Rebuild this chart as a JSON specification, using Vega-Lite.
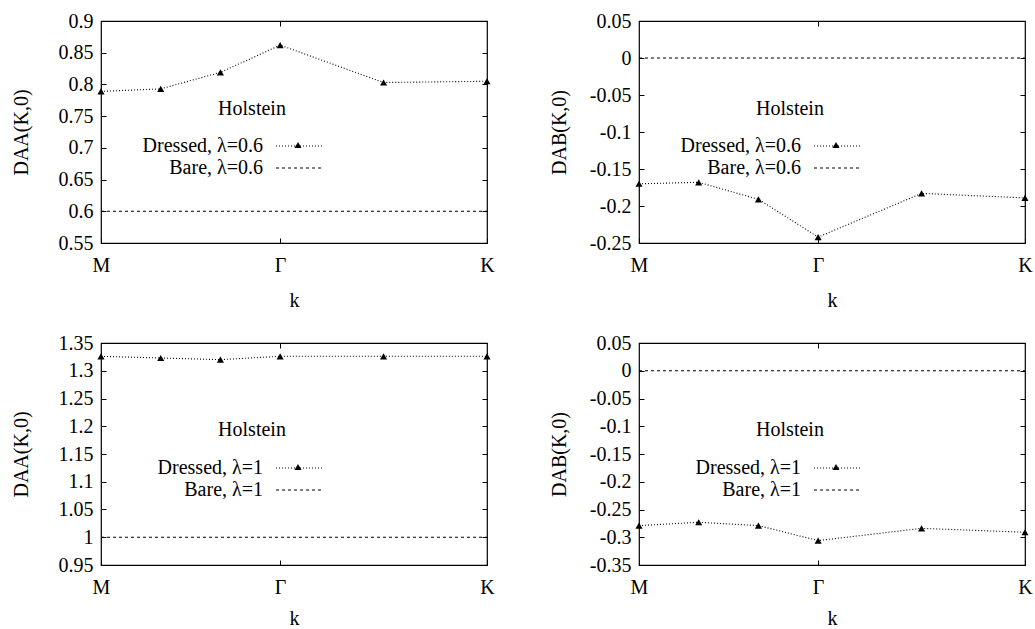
{
  "$schema": "https://vega.github.io/schema/vega-lite/v6.json",
  "background": "white",
  "padding": {"left": 10, "top": 10, "right": 5, "bottom": 0},
  "datasets": {
    "tl": [
      {"series": "Dressed, λ=0.6", "k": 0, "D": 0.789},
      {"series": "Dressed, λ=0.6", "k": 0.2887, "D": 0.793},
      {"series": "Dressed, λ=0.6", "k": 0.5774, "D": 0.819},
      {"series": "Dressed, λ=0.6", "k": 0.866, "D": 0.862},
      {"series": "Dressed, λ=0.6", "k": 1.366, "D": 0.803},
      {"series": "Dressed, λ=0.6", "k": 1.866, "D": 0.805},
      {"series": "Bare, λ=0.6", "k": 0, "D": 0.6},
      {"series": "Bare, λ=0.6", "k": 1.866, "D": 0.6}
    ],
    "tr": [
      {"series": "Dressed, λ=0.6", "k": 0, "D": -0.170},
      {"series": "Dressed, λ=0.6", "k": 0.2887, "D": -0.168},
      {"series": "Dressed, λ=0.6", "k": 0.5774, "D": -0.191},
      {"series": "Dressed, λ=0.6", "k": 0.866, "D": -0.242},
      {"series": "Dressed, λ=0.6", "k": 1.366, "D": -0.183},
      {"series": "Dressed, λ=0.6", "k": 1.866, "D": -0.189},
      {"series": "Bare, λ=0.6", "k": 0, "D": 0},
      {"series": "Bare, λ=0.6", "k": 1.866, "D": 0}
    ],
    "bl": [
      {"series": "Dressed, λ=1", "k": 0, "D": 1.326},
      {"series": "Dressed, λ=1", "k": 0.2887, "D": 1.323},
      {"series": "Dressed, λ=1", "k": 0.5774, "D": 1.320},
      {"series": "Dressed, λ=1", "k": 0.866, "D": 1.326},
      {"series": "Dressed, λ=1", "k": 1.366, "D": 1.326},
      {"series": "Dressed, λ=1", "k": 1.866, "D": 1.326},
      {"series": "Bare, λ=1", "k": 0, "D": 1},
      {"series": "Bare, λ=1", "k": 1.866, "D": 1}
    ],
    "br": [
      {"series": "Dressed, λ=1", "k": 0, "D": -0.279},
      {"series": "Dressed, λ=1", "k": 0.2887, "D": -0.273},
      {"series": "Dressed, λ=1", "k": 0.5774, "D": -0.279},
      {"series": "Dressed, λ=1", "k": 0.866, "D": -0.306},
      {"series": "Dressed, λ=1", "k": 1.366, "D": -0.284},
      {"series": "Dressed, λ=1", "k": 1.866, "D": -0.291},
      {"series": "Bare, λ=1", "k": 0, "D": 0},
      {"series": "Bare, λ=1", "k": 1.866, "D": 0}
    ],
    "label": [{"text": "Holstein"}]
  },
  "columns": 2,
  "spacing": {"row": 100, "column": 152},
  "bounds": "flush",
  "resolve": {"scale": {"strokeDash": "independent", "shape": "independent"}, "legend": {"strokeDash": "independent", "shape": "independent"}},
  "concat": [
    {
      "width": 386, "height": 222,
      "data": {"name": "tl"},
      "layer": [
        {
          "mark": {"type": "line", "strokeWidth": 1.1, "color": "black"},
          "encoding": {
            "x": {"field": "k", "type": "quantitative", "scale": {"domain": [0, 1.866], "nice": false, "zero": false},
              "axis": {"values": [0, 0.866, 1.866], "labelExpr": "datum.value < 0.1 ? 'M' : (datum.value < 1 ? 'Γ' : 'K')", "title": "k", "tickSize": -5, "labelPadding": 17, "labelFlush": false, "titleY": 57, "titleBaseline": "middle"}},
            "y": {"field": "D", "type": "quantitative", "scale": {"domain": [0.55, 0.9], "nice": false, "zero": false},
              "axis": {"values": [0.55, 0.6, 0.65, 0.7, 0.75, 0.8, 0.85, 0.9], "labelExpr": "replace(format(datum.value, '.2~f'), '−', '-')", "title": "DAA(K,0)", "tickSize": -5, "labelPadding": 13, "titleX": -80, "titleY": 111, "titleBaseline": "middle"}},
            "strokeDash": {"field": "series", "type": "nominal",
              "scale": {"domain": ["Dressed, λ=0.6", "Bare, λ=0.6"], "range": [[1, 2], [3, 3]]},
              "legend": {"title": null, "orient": "none", "legendX": 189, "legendY": 115, "rowPadding": 2,
                "labelAlign": "right", "labelOffset": -47,
                "symbolType": "M-4.8,0H4.8", "symbolSize": 100, "symbolStrokeWidth": 1.1}}
          }
        },
        {
          "transform": [{"filter": "indexof(datum.series, 'Dressed') == 0"}],
          "mark": {"type": "point", "filled": true, "color": "black", "size": 50, "opacity": 1},
          "encoding": {
            "x": {"field": "k", "type": "quantitative", "axis": null},
            "y": {"field": "D", "type": "quantitative", "axis": null},
            "shape": {"field": "series", "type": "nominal", "scale": {"domain": ["Dressed, λ=0.6"], "range": ["triangle-up"]},
              "legend": {"title": null, "orient": "none", "legendX": 187, "legendY": 114, "labelExpr": "''", "symbolSize": 50, "symbolFillColor": "black", "symbolStrokeColor": "black"}}
          }
        },
        {
          "data": {"name": "label"},
          "mark": {"type": "text", "font": "Liberation Serif", "fontSize": 20, "color": "black", "align": "center", "baseline": "middle"},
          "encoding": {
            "x": {"datum": 0.73, "type": "quantitative", "axis": null},
            "y": {"datum": 0.761, "type": "quantitative", "axis": null},
            "text": {"field": "text", "type": "nominal"}
          }
        },
        {
          "mark": {"type": "point", "opacity": 0},
          "encoding": {
            "x": {"field": "k", "type": "quantitative", "axis": {"orient": "top", "values": [0.866], "labels": false, "title": null, "tickSize": -5}},
            "y": {"field": "D", "type": "quantitative", "axis": {"orient": "right", "values": [0.55, 0.6, 0.65, 0.7, 0.75, 0.8, 0.85, 0.9], "labels": false, "title": null, "tickSize": -5}}
          }
        }
      ],
      "resolve": {"axis": {"x": "independent", "y": "independent"}}
    },
    {
      "width": 386, "height": 222,
      "data": {"name": "tr"},
      "layer": [
        {
          "mark": {"type": "line", "strokeWidth": 1.1, "color": "black"},
          "encoding": {
            "x": {"field": "k", "type": "quantitative", "scale": {"domain": [0, 1.866], "nice": false, "zero": false},
              "axis": {"values": [0, 0.866, 1.866], "labelExpr": "datum.value < 0.1 ? 'M' : (datum.value < 1 ? 'Γ' : 'K')", "title": "k", "tickSize": -5, "labelPadding": 17, "labelFlush": false, "titleY": 57, "titleBaseline": "middle"}},
            "y": {"field": "D", "type": "quantitative", "scale": {"domain": [-0.25, 0.05], "nice": false, "zero": false},
              "axis": {"values": [-0.25, -0.2, -0.15, -0.1, -0.05, 0, 0.05], "labelExpr": "replace(format(datum.value, '.2~f'), '−', '-')", "title": "DAB(K,0)", "tickSize": -5, "labelPadding": 13, "titleX": -80, "titleY": 111, "titleBaseline": "middle"}},
            "strokeDash": {"field": "series", "type": "nominal",
              "scale": {"domain": ["Dressed, λ=0.6", "Bare, λ=0.6"], "range": [[1, 2], [3, 3]]},
              "legend": {"title": null, "orient": "none", "legendX": 189, "legendY": 115, "rowPadding": 2,
                "labelAlign": "right", "labelOffset": -47,
                "symbolType": "M-4.8,0H4.8", "symbolSize": 100, "symbolStrokeWidth": 1.1}}
          }
        },
        {
          "transform": [{"filter": "indexof(datum.series, 'Dressed') == 0"}],
          "mark": {"type": "point", "filled": true, "color": "black", "size": 50, "opacity": 1},
          "encoding": {
            "x": {"field": "k", "type": "quantitative", "axis": null},
            "y": {"field": "D", "type": "quantitative", "axis": null},
            "shape": {"field": "series", "type": "nominal", "scale": {"domain": ["Dressed, λ=0.6"], "range": ["triangle-up"]},
              "legend": {"title": null, "orient": "none", "legendX": 187, "legendY": 114, "labelExpr": "''", "symbolSize": 50, "symbolFillColor": "black", "symbolStrokeColor": "black"}}
          }
        },
        {
          "data": {"name": "label"},
          "mark": {"type": "text", "font": "Liberation Serif", "fontSize": 20, "color": "black", "align": "center", "baseline": "middle"},
          "encoding": {
            "x": {"datum": 0.73, "type": "quantitative", "axis": null},
            "y": {"datum": -0.069, "type": "quantitative", "axis": null},
            "text": {"field": "text", "type": "nominal"}
          }
        },
        {
          "mark": {"type": "point", "opacity": 0},
          "encoding": {
            "x": {"field": "k", "type": "quantitative", "axis": {"orient": "top", "values": [0.866], "labels": false, "title": null, "tickSize": -5}},
            "y": {"field": "D", "type": "quantitative", "axis": {"orient": "right", "values": [-0.25, -0.2, -0.15, -0.1, -0.05, 0, 0.05], "labels": false, "title": null, "tickSize": -5}}
          }
        }
      ],
      "resolve": {"axis": {"x": "independent", "y": "independent"}}
    },
    {
      "width": 386, "height": 222,
      "data": {"name": "bl"},
      "layer": [
        {
          "mark": {"type": "line", "strokeWidth": 1.1, "color": "black"},
          "encoding": {
            "x": {"field": "k", "type": "quantitative", "scale": {"domain": [0, 1.866], "nice": false, "zero": false},
              "axis": {"values": [0, 0.866, 1.866], "labelExpr": "datum.value < 0.1 ? 'M' : (datum.value < 1 ? 'Γ' : 'K')", "title": "k", "tickSize": -5, "labelPadding": 17, "labelFlush": false, "titleY": 53, "titleBaseline": "middle"}},
            "y": {"field": "D", "type": "quantitative", "scale": {"domain": [0.95, 1.35], "nice": false, "zero": false},
              "axis": {"values": [0.95, 1, 1.05, 1.1, 1.15, 1.2, 1.25, 1.3, 1.35], "labelExpr": "replace(format(datum.value, '.2~f'), '−', '-')", "title": "DAA(K,0)", "tickSize": -5, "labelPadding": 13, "titleX": -80, "titleY": 111, "titleBaseline": "middle"}},
            "strokeDash": {"field": "series", "type": "nominal",
              "scale": {"domain": ["Dressed, λ=1", "Bare, λ=1"], "range": [[1, 2], [3, 3]]},
              "legend": {"title": null, "orient": "none", "legendX": 189, "legendY": 115, "rowPadding": 2,
                "labelAlign": "right", "labelOffset": -47,
                "symbolType": "M-4.8,0H4.8", "symbolSize": 100, "symbolStrokeWidth": 1.1}}
          }
        },
        {
          "transform": [{"filter": "indexof(datum.series, 'Dressed') == 0"}],
          "mark": {"type": "point", "filled": true, "color": "black", "size": 50, "opacity": 1},
          "encoding": {
            "x": {"field": "k", "type": "quantitative", "axis": null},
            "y": {"field": "D", "type": "quantitative", "axis": null},
            "shape": {"field": "series", "type": "nominal", "scale": {"domain": ["Dressed, λ=1"], "range": ["triangle-up"]},
              "legend": {"title": null, "orient": "none", "legendX": 187, "legendY": 114, "labelExpr": "''", "symbolSize": 50, "symbolFillColor": "black", "symbolStrokeColor": "black"}}
          }
        },
        {
          "data": {"name": "label"},
          "mark": {"type": "text", "font": "Liberation Serif", "fontSize": 20, "color": "black", "align": "center", "baseline": "middle"},
          "encoding": {
            "x": {"datum": 0.73, "type": "quantitative", "axis": null},
            "y": {"datum": 1.193, "type": "quantitative", "axis": null},
            "text": {"field": "text", "type": "nominal"}
          }
        },
        {
          "mark": {"type": "point", "opacity": 0},
          "encoding": {
            "x": {"field": "k", "type": "quantitative", "axis": {"orient": "top", "values": [0.866], "labels": false, "title": null, "tickSize": -5}},
            "y": {"field": "D", "type": "quantitative", "axis": {"orient": "right", "values": [0.95, 1, 1.05, 1.1, 1.15, 1.2, 1.25, 1.3, 1.35], "labels": false, "title": null, "tickSize": -5}}
          }
        }
      ],
      "resolve": {"axis": {"x": "independent", "y": "independent"}}
    },
    {
      "width": 386, "height": 222,
      "data": {"name": "br"},
      "layer": [
        {
          "mark": {"type": "line", "strokeWidth": 1.1, "color": "black"},
          "encoding": {
            "x": {"field": "k", "type": "quantitative", "scale": {"domain": [0, 1.866], "nice": false, "zero": false},
              "axis": {"values": [0, 0.866, 1.866], "labelExpr": "datum.value < 0.1 ? 'M' : (datum.value < 1 ? 'Γ' : 'K')", "title": "k", "tickSize": -5, "labelPadding": 17, "labelFlush": false, "titleY": 53, "titleBaseline": "middle"}},
            "y": {"field": "D", "type": "quantitative", "scale": {"domain": [-0.35, 0.05], "nice": false, "zero": false},
              "axis": {"values": [-0.35, -0.3, -0.25, -0.2, -0.15, -0.1, -0.05, 0, 0.05], "labelExpr": "replace(format(datum.value, '.2~f'), '−', '-')", "title": "DAB(K,0)", "tickSize": -5, "labelPadding": 13, "titleX": -80, "titleY": 111, "titleBaseline": "middle"}},
            "strokeDash": {"field": "series", "type": "nominal",
              "scale": {"domain": ["Dressed, λ=1", "Bare, λ=1"], "range": [[1, 2], [3, 3]]},
              "legend": {"title": null, "orient": "none", "legendX": 189, "legendY": 115, "rowPadding": 2,
                "labelAlign": "right", "labelOffset": -47,
                "symbolType": "M-4.8,0H4.8", "symbolSize": 100, "symbolStrokeWidth": 1.1}}
          }
        },
        {
          "transform": [{"filter": "indexof(datum.series, 'Dressed') == 0"}],
          "mark": {"type": "point", "filled": true, "color": "black", "size": 50, "opacity": 1},
          "encoding": {
            "x": {"field": "k", "type": "quantitative", "axis": null},
            "y": {"field": "D", "type": "quantitative", "axis": null},
            "shape": {"field": "series", "type": "nominal", "scale": {"domain": ["Dressed, λ=1"], "range": ["triangle-up"]},
              "legend": {"title": null, "orient": "none", "legendX": 187, "legendY": 114, "labelExpr": "''", "symbolSize": 50, "symbolFillColor": "black", "symbolStrokeColor": "black"}}
          }
        },
        {
          "data": {"name": "label"},
          "mark": {"type": "text", "font": "Liberation Serif", "fontSize": 20, "color": "black", "align": "center", "baseline": "middle"},
          "encoding": {
            "x": {"datum": 0.73, "type": "quantitative", "axis": null},
            "y": {"datum": -0.106, "type": "quantitative", "axis": null},
            "text": {"field": "text", "type": "nominal"}
          }
        },
        {
          "mark": {"type": "point", "opacity": 0},
          "encoding": {
            "x": {"field": "k", "type": "quantitative", "axis": {"orient": "top", "values": [0.866], "labels": false, "title": null, "tickSize": -5}},
            "y": {"field": "D", "type": "quantitative", "axis": {"orient": "right", "values": [-0.35, -0.3, -0.25, -0.2, -0.15, -0.1, -0.05, 0, 0.05], "labels": false, "title": null, "tickSize": -5}}
          }
        }
      ],
      "resolve": {"axis": {"x": "independent", "y": "independent"}}
    }
  ],
  "config": {
    "font": "Liberation Serif",
    "view": {"stroke": "black", "strokeWidth": 1.2},
    "axis": {"labelFont": "Liberation Serif", "labelFontSize": 20, "labelColor": "black", "titleFont": "Liberation Serif", "titleFontSize": 20, "titleFontWeight": "normal", "titleColor": "black", "tickColor": "black", "tickWidth": 1, "grid": false, "domain": false},
    "legend": {"labelFont": "Liberation Serif", "labelFontSize": 20, "labelColor": "black", "titleFont": "Liberation Serif", "titleFontSize": 20, "titleFontWeight": "normal", "titleColor": "black"}
  }
}
